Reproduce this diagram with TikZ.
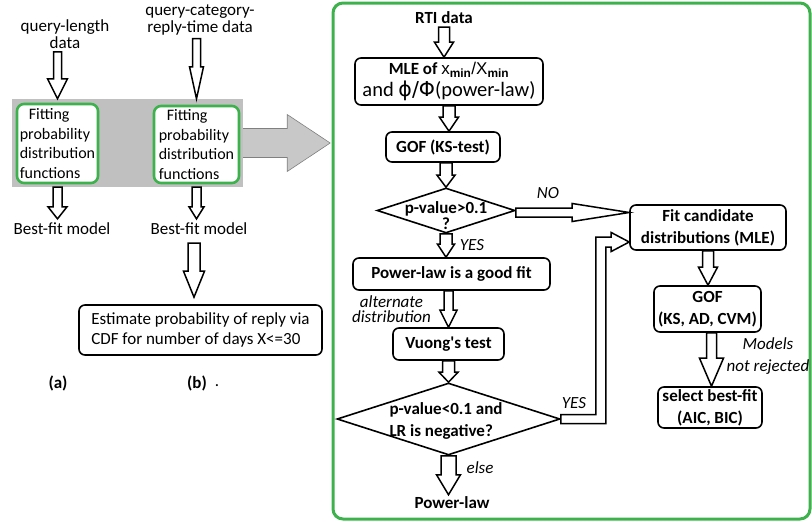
\documentclass[tikz,border=0pt]{standalone}
\usepackage{fontspec}
\setmainfont{Carlito}
\newfontfamily\arialf{Liberation Sans}
\newfontfamily\djv{DejaVu Sans}
\newfontfamily\plainq[Ligatures=ResetAll]{Carlito}
\usetikzlibrary{calc,shapes.geometric}
\definecolor{grn}{RGB}{61,178,76}
\definecolor{bandc}{RGB}{192,192,192}
\definecolor{bigc}{RGB}{200,200,200}
\begin{document}
\begin{tikzpicture}[x=1pt,y=-1pt,
  arrSW/.store in=\arrSW, arrHW/.store in=\arrHW, arrHL/.store in=\arrHL,
  arrSW=4pt, arrHW=10pt, arrHL=15pt,
  darrow/.style={draw=black, fill=white, line width=1.5pt, line join=miter,
    to path={let \p1=(\tikztostart), \p2=(\tikztotarget) in
      (\x1-\arrSW,\y1) -- (\x1-\arrSW,\y2+\arrHL) -- (\x1-\arrHW,\y2+\arrHL) -- (\x1,\y2)
      -- (\x1+\arrHW,\y2+\arrHL) -- (\x1+\arrSW,\y2+\arrHL) -- (\x1+\arrSW,\y1) -- cycle}},
  rarrow/.style={draw=black, fill=white, line width=1.5pt, line join=miter,
    to path={let \p1=(\tikztostart), \p2=(\tikztotarget) in
      (\x1,\y1-\arrSW) -- (\x2-\arrHL,\y1-\arrSW) -- (\x2-\arrHL,\y1-\arrHW) -- (\x2,\y1)
      -- (\x2-\arrHL,\y1+\arrHW) -- (\x2-\arrHL,\y1+\arrSW) -- (\x1,\y1+\arrSW) -- cycle}},
  lbl/.style={inner sep=0pt, align=center, font=\fontsize{17}{17.6}\selectfont},
  lblb/.style={inner sep=0pt, align=center, font=\fontsize{17}{20}\selectfont\bfseries},
  lbli/.style={inner sep=0pt, align=center, font=\fontsize{17}{15.5}\selectfont\itshape},
  gbox/.style={draw=grn, line width=2.6pt, rounded corners=7pt, fill=white, inner sep=0pt,
    align=left, font=\fontsize{16}{19.7}\selectfont},
  kbox/.style={draw=black, line width=1.6pt, rounded corners=6pt, fill=white, inner sep=0pt,
    align=center, font=\fontsize{17}{22}\selectfont\bfseries},
  ebox/.style={kbox, align=left, font=\fontsize{17}{20}\selectfont},
  dia/.style={draw=black, diamond, line width=1.6pt, fill=white, inner sep=0pt},
  bandbox/.style={fill=bandc, draw=none, inner sep=0pt, minimum width=231pt, minimum height=88pt},
  panel/.style={draw=grn, line width=3pt, rounded corners=10pt, inner sep=0pt}
]
\useasboundingbox (0,0) rectangle (812,522);

% ---------- left part ----------
\node[lbl] (ql) at (65,34) {query-length\\data};
\node[lbl] (qc) at (200,20) {query-category-\\reply-time data};
\node[bandbox] (band) at (127.5,143) {};
\draw[draw=gray, fill=bigc, line width=0.6pt, line join=miter]
  let \p1=(band.east) in
  (\x1,\y1+14.5pt) -- (\x1+44pt,\y1+14.5pt) -- (\x1+44pt,\y1+28.5pt) -- (\x1+87pt,\y1)
  -- (\x1+44pt,\y1-28.5pt) -- (\x1+44pt,\y1-14.5pt) -- (\x1,\y1-14.5pt);
\node[gbox, minimum width=81pt, minimum height=79pt] (g1) at (57.5,143.5)
  {\hspace*{9pt}Fitting\\probability\\distribution\\functions};
\node[gbox, minimum width=85pt, minimum height=77pt] (g2) at (196.5,144.5)
  {\hspace*{8pt}Fitting\\probability\\distribution\\functions};
\node[lbl] (bf1) at (62,229) {Best-fit model};
\node[lbl] (bf2) at (199,229) {Best-fit model};
\node[ebox, minimum width=243pt, minimum height=50pt] (est) at (200.5,330)
  {Estimate probability of reply via\\CDF for number of days X<=30};
\node[lblb] (la) at (58,383) {(a)};
\node[lblb] (lb) at (197,383) {(b)};
\node[lbl] (dot) at (217,386) {.};

\draw[darrow, arrSW=4pt, arrHW=10pt, arrHL=20pt] ([yshift=-3pt]ql.south -| g1.north) to (g1.north |- band.north);
\draw[darrow, arrSW=4pt, arrHW=7pt, arrHL=32pt] ([yshift=-3pt]qc.south -| g2.north) to (g2.north |- band.north);
\draw[darrow, arrSW=4.5pt, arrHW=9.5pt, arrHL=12pt] (g1.south |- band.south) to ([yshift=4pt]g1.south |- bf1.north);
\draw[darrow, arrSW=4.5pt, arrHW=7.5pt, arrHL=12pt] (g2.south |- band.south) to ([yshift=4pt]g2.south |- bf2.north);
\draw[darrow, arrSW=6pt, arrHW=10.5pt, arrHL=26pt] ([xshift=-5pt,yshift=-8pt]bf2.south) to ([yshift=7pt]est.north);

% ---------- right part ----------
\node[panel, minimum width=477pt, minimum height=516pt] (panel) at (571.5,261) {};
\node[lblb] (rti) at (444,18) {RTI data};
\node[kbox, minimum width=188pt, minimum height=47pt, font=\fontsize{17}{22}\selectfont] (mle) at (449,81.5)
  {{\bfseries MLE of }{\arialf x\textsubscript{\bfseries min}/X\textsubscript{\bfseries min}}\\
   {\fontsize{20.5}{22}\selectfont and {\djv ϕ/Φ}(power-law)}};
\node[kbox, minimum width=114pt, minimum height=30pt] (gof1) at (443,147) {GOF (KS-test)};
\node[dia, minimum width=138pt, minimum height=45pt] (d1) at (446,210.5) {};
\node[lblb, font=\fontsize{17}{16}\selectfont\bfseries] (t1) at (446,216) {p-value>0.1\\?};
\node[kbox, minimum width=197pt, minimum height=32pt] (plaw) at (451.5,274) {Power-law is a good fit};
\node[kbox, minimum width=111pt, minimum height=32pt] (vu) at (448.5,344) {Vuong{\plainq\bfseries '}s test};
\node[dia, minimum width=223pt, minimum height=72pt] (d2) at (448.5,419) {};
\node[lblb, align=left, font=\fontsize{17}{22}\selectfont\bfseries] (t2) at (446,421) {p-value<0.1 and\\LR is negative?};
\node[lblb] (plo) at (452,503) {Power-law};
\node[kbox, minimum width=156pt, minimum height=45pt] (fit) at (708,227.5) {Fit candidate\\distributions (MLE)};
\node[kbox, minimum width=107pt, minimum height=46pt] (gof2) at (707.5,309) {GOF\\(KS, AD, CVM)};
\node[kbox, minimum width=104pt, minimum height=41pt] (sel) at (710,407.5) {select best-fit\\(AIC, BIC)};

\node[lbli] (lno) at (548,193) {NO};
\node[lbli] (lyes1) at (472,245) {YES};
\node[lbli] (lalt) at (391.5,309) {alternate\\distribution};
\node[lbli] (lelse) at (480,468) {else};
\node[lbli] (lyes2) at (574,403) {YES};
\node[lbli, font=\fontsize{17}{22}\selectfont\itshape] (lmod) at (768,356) {Models\\not rejected};

\draw[darrow, arrSW=5.5pt, arrHW=9.5pt, arrHL=15pt] ([yshift=-3pt]rti.south) to (mle.north);
\draw[darrow, arrSW=6pt, arrHW=9.5pt, arrHL=14pt] (mle.south) to (mle.south |- gof1.north);
\draw[darrow, arrSW=6pt, arrHW=9pt, arrHL=12pt] (gof1.south -| d1.north) to (d1.north);
\draw[darrow, arrSW=6pt, arrHW=8.5pt, arrHL=13pt] (d1.south) to (d1.south |- plaw.north);
\draw[darrow, arrSW=4.5pt, arrHW=8.5pt, arrHL=17pt] (plaw.south -| vu.north) to (vu.north);
\draw[darrow, arrSW=6pt, arrHW=9.5pt, arrHL=10pt] (vu.south) to (d2.north);
\draw[darrow, arrSW=7.5pt, arrHW=12pt, arrHL=20pt] (d2.south) to ([yshift=2pt]plo.north);
\draw[darrow, arrSW=5.5pt, arrHW=9.5pt, arrHL=18pt] (fit.south) to (fit.south |- gof2.north);
\draw[darrow, arrSW=5pt, arrHW=12pt, arrHL=28pt] ([xshift=4pt]gof2.south) to ([xshift=4pt]gof2.south |- sel.north);

\draw[rarrow, arrSW=4.5pt, arrHW=9pt, arrHL=57pt] ([yshift=-2pt]d1.east) to (d1.east -| fit.west);
\draw[draw=black, fill=white, line width=1.5pt, line join=miter]
  let \p1=(d2.east), \p2=(fit.west) in
  (\x1,\y1+4.5pt) -- (\x1+35pt,\y1+4.5pt) -- (\x1+35pt,\y2-9.5pt) -- (\x2-18pt,\y2-9.5pt)
  -- (\x2-18pt,\y2-5pt) -- (\x2,\y2-14.5pt) -- (\x2-18pt,\y2-24pt) -- (\x2-18pt,\y2-19.5pt)
  -- (\x1+45pt,\y2-19.5pt) -- (\x1+45pt,\y1-4.5pt) -- (\x1,\y1-4.5pt) -- cycle;
\end{tikzpicture}
\end{document}
